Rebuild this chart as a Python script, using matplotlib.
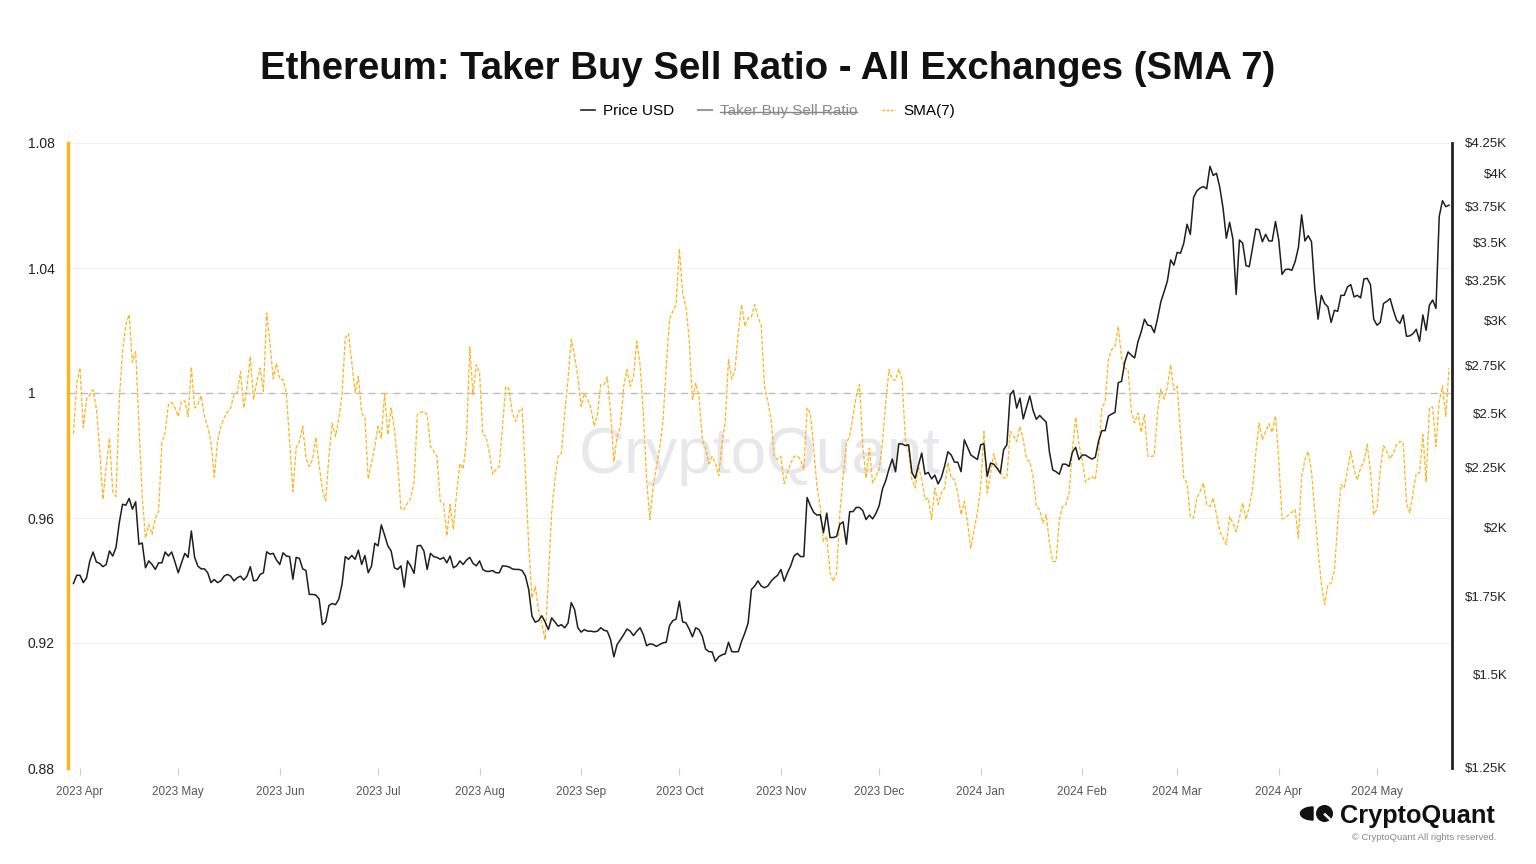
import numpy as np
import pandas as pd
import matplotlib
matplotlib.use('Agg')
import matplotlib.pyplot as plt
import matplotlib.dates as mdates
from matplotlib.lines import Line2D
from matplotlib.patches import Polygon, Circle
from matplotlib.ticker import NullLocator

plt.rcParams['font.family'] = ['Liberation Sans', 'DejaVu Sans']

# daily values, first day 2023-03-30
start_day = '2023-03-30'

sma_apr_jul = [0.987, 1.003, 1.008, 0.989, 0.998, 0.9995, 1.001, 0.995, 0.982, 0.966,
               0.9765, 0.9856, 0.9685, 0.9669, 0.998, 1.0133, 1.0219, 1.0251, 1.0098, 1.0133,
               0.9904, 0.9669, 0.9536, 0.9579, 0.9547, 0.960, 0.9621, 0.984, 0.9872, 0.9963,
               0.997, 0.9952, 0.9925, 0.9973, 0.9975, 0.9925, 1.0083, 0.9952, 0.9963, 0.9991,
               0.9925, 0.9893, 0.9842, 0.9731, 0.9845, 0.9893, 0.992, 0.9939, 0.9952, 0.9995,
               1.000, 1.0069, 0.9952, 1.0021, 1.0117, 0.998, 1.0037, 1.008, 1.0005, 1.0256,
               1.016, 1.0045, 1.0094, 1.0045, 1.0043, 1.000, 0.984, 0.9685, 0.9824, 0.9845,
               0.9893, 0.9792, 0.9765, 0.9787, 0.9858, 0.9771, 0.9691, 0.9655, 0.9797, 0.9904,
               0.9861, 0.9915, 0.9995, 1.0176, 1.019, 1.0096, 1.0002, 1.0053, 0.9936, 0.992,
               0.9725, 0.9776, 0.9829, 0.9893, 0.9856, 0.9998, 0.9867, 0.9952, 0.9883, 0.9776,
               0.9627, 0.9629, 0.9648, 0.9664, 0.9717, 0.9931]
sma_jul_oct = [0.9938, 0.9941, 0.9931, 0.9829, 0.9813, 0.9797, 0.9653, 0.9648, 0.9543, 0.9643,
               0.9563, 0.968, 0.9774, 0.9757, 0.9851, 1.0147, 0.9995, 1.0091, 1.0064, 0.9867,
               0.9861, 0.9808, 0.9739, 0.9755, 0.9765, 0.9893, 1.0021, 1.0013, 0.9936, 0.9909,
               0.9941, 0.9952, 0.9744, 0.9509, 0.9344, 0.9381, 0.9306, 0.9264, 0.921, 0.9402,
               0.9616, 0.9723, 0.9797, 0.9808, 0.9936, 1.0043, 1.0171, 1.0117, 1.0053, 0.9957,
               0.9998, 0.9979, 0.9952, 0.9893, 0.9931, 1.0027, 1.0027, 1.0051, 0.9936, 0.9781,
               0.9861, 0.9893, 1.0021, 1.0075, 1.0021, 1.0053, 1.0165, 1.0091, 0.9936, 0.9723,
               0.9595, 0.9701, 0.9765, 0.9824, 0.9909, 1.0085, 1.0235, 1.0261, 1.0283, 1.0461,
               1.032, 1.0277, 1.0171, 0.9979, 1.0032, 0.9989, 0.9851, 0.9824, 0.9774, 0.9797,
               0.9776, 0.9735, 0.9835, 0.9909, 1.0107, 1.0045, 1.0075, 1.0192, 1.0283, 1.0213,
               1.024, 1.0243, 1.0283, 1.0243, 1.0216, 1.0021, 0.9973]
sma_oct_feb = [0.9915, 0.9797, 0.9787, 0.9797, 0.971, 0.9744, 0.9776, 0.9797, 0.9799, 0.9787,
               0.9755, 0.9952, 0.9936, 0.9824, 0.9701, 0.9637, 0.9525, 0.9541, 0.9424, 0.9397,
               0.9424, 0.9616, 0.9733, 0.984, 0.9861, 0.9925, 0.9989, 1.0027, 0.9829, 0.9728,
               0.9824, 0.9712, 0.9733, 0.9755, 0.984, 0.9968, 1.0075, 1.0043, 1.0041, 1.0077,
               1.0043, 0.9851, 0.9813, 0.9723, 0.9696, 0.9765, 0.9723, 0.9659, 0.9664, 0.9595,
               0.9696, 0.9643, 0.968, 0.9696, 0.9778, 0.9728, 0.9723, 0.968, 0.9611, 0.9653,
               0.9584, 0.9504, 0.9563, 0.9616, 0.9701, 0.9877, 0.968, 0.9744, 0.9806, 0.9765,
               0.9744, 0.9728, 0.9728, 0.9877, 0.9863, 0.9845, 0.9893, 0.9851, 0.9787, 0.9781,
               0.9733, 0.9637, 0.9627, 0.9584, 0.9611, 0.952, 0.9461, 0.9461, 0.9595, 0.9637,
               0.9643, 0.968, 0.9819, 0.9922, 0.9835, 0.9787, 0.9714, 0.9725, 0.9733, 0.9723,
               0.9808, 0.9952, 0.9973, 1.0107, 1.0139, 1.0149, 1.0213]
sma_feb_may = [1.0112, 1.008, 1.0075, 0.9941, 0.9904, 0.9936, 0.9874, 0.9931, 0.9797, 0.9797,
               0.9799, 0.9941, 1.0013, 0.9981, 1.0019, 1.0091, 1.0009, 1.0021, 0.9872, 0.9728,
               0.9712, 0.9605, 0.96, 0.9664, 0.9685, 0.9712, 0.9643, 0.9637, 0.9664, 0.9611,
               0.9557, 0.9536, 0.9515, 0.9605, 0.9584, 0.9557, 0.96, 0.9648, 0.9595, 0.9637,
               0.9691, 0.9808, 0.9904, 0.9851, 0.9877, 0.9902, 0.9874, 0.9927, 0.9787, 0.9597,
               0.96, 0.9611, 0.9618, 0.9627, 0.9536, 0.9733, 0.9787, 0.9813, 0.9749, 0.9621,
               0.9499, 0.9392, 0.9322, 0.9386, 0.9392, 0.9432, 0.9584, 0.9707, 0.9696, 0.9755,
               0.9813, 0.9755, 0.9723, 0.976, 0.9781, 0.9835, 0.9749, 0.9611, 0.9629, 0.9755,
               0.9831, 0.9813, 0.9789, 0.9808, 0.9835, 0.9845, 0.9842, 0.9648, 0.9616, 0.968,
               0.9744, 0.9744, 0.9867, 0.9717, 0.9952, 0.9955, 0.9829, 0.9973, 1.0023, 0.9925,
               1.008]

price_apr_jul = [1794, 1823, 1823, 1797, 1814, 1875, 1908, 1871, 1866, 1854,
                 1862, 1912, 1893, 1925, 2021, 2095, 2091, 2119, 2075, 2105,
                 1937, 1942, 1850, 1875, 1862, 1844, 1868, 1868, 1908, 1893,
                 1908, 1871, 1832, 1868, 1903, 1888, 1988, 1888, 1856, 1846,
                 1846, 1832, 1797, 1808, 1797, 1803, 1820, 1826, 1820, 1803,
                 1814, 1820, 1806, 1820, 1854, 1803, 1806, 1826, 1832, 1909,
                 1900, 1903, 1878, 1862, 1905, 1893, 1891, 1809, 1888, 1884,
                 1846, 1840, 1756, 1756, 1754, 1741, 1655, 1664, 1718, 1725,
                 1721, 1739, 1791, 1891, 1881, 1895, 1881, 1915, 1862, 1895,
                 1832, 1856, 1941, 1931, 2012, 1972, 1931, 1912, 1850, 1844,
                 1857, 1781, 1875, 1856, 1830, 1931]
price_jul_oct = [1933, 1912, 1844, 1903, 1891, 1888, 1881, 1888, 1868, 1893,
                 1850, 1857, 1875, 1862, 1878, 1888, 1866, 1857, 1875, 1844,
                 1837, 1837, 1840, 1832, 1832, 1857, 1856, 1853, 1846, 1844,
                 1844, 1840, 1820, 1773, 1683, 1663, 1668, 1684, 1664, 1639,
                 1677, 1664, 1650, 1655, 1645, 1660, 1728, 1705, 1645, 1631,
                 1639, 1634, 1634, 1632, 1634, 1645, 1637, 1634, 1607, 1554,
                 1592, 1607, 1623, 1641, 1634, 1620, 1634, 1645, 1623, 1588,
                 1594, 1592, 1586, 1592, 1597, 1599, 1652, 1668, 1673, 1733,
                 1664, 1661, 1641, 1616, 1645, 1639, 1618, 1578, 1570, 1569,
                 1540, 1554, 1560, 1563, 1599, 1570, 1569, 1570, 1602, 1628,
                 1661, 1773, 1785, 1803, 1785, 1779, 1785]
price_oct_feb = [1802, 1814, 1823, 1844, 1802, 1832, 1857, 1893, 1903, 1891,
                 1891, 2123, 2089, 2062, 2051, 2053, 1982, 2059, 1963, 1963,
                 1967, 2015, 2024, 1937, 2065, 2065, 2082, 2082, 2069, 2033,
                 2051, 2036, 2057, 2089, 2158, 2194, 2245, 2289, 2233, 2358,
                 2358, 2350, 2354, 2230, 2204, 2262, 2316, 2222, 2230, 2202,
                 2218, 2180, 2208, 2259, 2322, 2307, 2275, 2275, 2233, 2377,
                 2342, 2307, 2297, 2287, 2354, 2358, 2213, 2271, 2266, 2248,
                 2227, 2331, 2354, 2596, 2618, 2529, 2579, 2476, 2534, 2590,
                 2517, 2474, 2493, 2476, 2461, 2320, 2241, 2233, 2222, 2266,
                 2266, 2256, 2320, 2342, 2287, 2307, 2307, 2297, 2289, 2297,
                 2372, 2420, 2420, 2490, 2500, 2508, 2658]
price_feb_may = [2665, 2768, 2823, 2805, 2790, 2879, 2936, 3010, 2975, 2971,
                 2932, 3014, 3114, 3176, 3243, 3380, 3346, 3431, 3425, 3492,
                 3625, 3554, 3820, 3870, 3891, 3903, 3885, 4060, 3989, 4005,
                 3897, 3741, 3527, 3639, 3522, 3159, 3515, 3492, 3343, 3336,
                 3463, 3592, 3585, 3503, 3554, 3508, 3508, 3644, 3515, 3286,
                 3317, 3320, 3312, 3369, 3463, 3692, 3508, 3545, 3503, 3197,
                 3010, 3154, 3104, 3084, 2991, 3063, 3057, 3154, 3154, 3207,
                 3221, 3144, 3154, 3138, 3256, 3261, 3221, 3010, 2975, 2991,
                 3104, 3117, 3134, 3063, 3004, 2985, 3035, 2911, 2913, 2926,
                 2951, 2882, 3035, 2945, 3094, 3125, 3074, 3682, 3796, 3752,
                 3763]

ratio_ticks = [0.88, 0.92, 0.96, 1.0, 1.04, 1.08]
ratio_labels = ['0.88', '0.92', '0.96', '1', '1.04', '1.08']
price_ticks = [1250, 1500, 1750, 2000, 2250, 2500, 2750, 3000, 3250, 3500, 3750, 4000, 4250]
price_labels = ['$1.25K', '$1.5K', '$1.75K', '$2K', '$2.25K', '$2.5K', '$2.75K',
                '$3K', '$3.25K', '$3.5K', '$3.75K', '$4K', '$4.25K']

sma7 = sma_apr_jul + sma_jul_oct + sma_oct_feb + sma_feb_may
price = price_apr_jul + price_jul_oct + price_oct_feb + price_feb_may
dates = pd.date_range(start_day, periods=len(sma7), freq='D')

W, H = 1536, 864
fig = plt.figure(figsize=(W / 100, H / 100), dpi=100)
fig.patch.set_facecolor('white')

ax = fig.add_axes([68 / W, (H - 768) / H, (1452 - 68) / W, (768 - 143) / H])
ax2 = ax.twinx()

orange = '#F9B51D'

# watermark
ax.text(0.5, 0.5, 'CryptoQuant', transform=ax.transAxes, ha='center', va='center',
        fontsize=46, color='#e7e7ec', zorder=0)

ax.plot(dates, sma7, color=orange, lw=0.9, ls=(0, (3, 1.5)), zorder=3)
ax.axhline(1.0, color='#bdbdbd', lw=1, ls=(0, (5, 4)), zorder=2)
ax.set_ylim(0.88, 1.08)
ax.set_yticks(ratio_ticks, labels=ratio_labels)
ax.yaxis.grid(True, color='#f0f0f0', lw=0.8, zorder=1)
ax.tick_params(axis='y', length=0, pad=28.8, labelsize=10, labelcolor='#222222')
for lbl in ax.get_yticklabels():
    lbl.set_horizontalalignment('left')

x0 = pd.Timestamp('2023-04-01') - pd.Timedelta(days=3.66)
x1 = pd.Timestamp('2023-04-01') + pd.Timedelta(days=418.9)
ax.set_xlim(x0, x1)
ax.xaxis.set_major_locator(mdates.MonthLocator())
ax.xaxis.set_major_formatter(mdates.DateFormatter('%Y %b'))
ax.tick_params(axis='x', length=5, width=0.8, color='#cccccc', pad=8,
               labelsize=8.5, labelcolor='#555555')

for s in ['top', 'right', 'bottom']:
    ax.spines[s].set_visible(False)
ax.spines['left'].set_color(orange)
ax.spines['left'].set_linewidth(2.5)

ax2.plot(dates, price, color='#1e1e1e', lw=1.1, zorder=4)
ax2.set_yscale('log')
ax2.set_ylim(1250, 4250)
ax2.yaxis.set_minor_locator(NullLocator())
ax2.set_yticks(price_ticks, labels=price_labels)
ax2.tick_params(axis='y', which='both', length=0, pad=39.8, labelsize=9.5, labelcolor='#222222')
for lbl in ax2.get_yticklabels():
    lbl.set_horizontalalignment('right')
for s in ['top', 'left', 'bottom']:
    ax2.spines[s].set_visible(False)
ax2.spines['right'].set_color('#222222')
ax2.spines['right'].set_linewidth(2)

fig.text(0.5, 1 - 69 / H, 'Ethereum: Taker Buy Sell Ratio - All Exchanges (SMA 7)',
         ha='center', va='center', fontsize=27.6, fontweight='bold', color='#111111')

handles = [Line2D([], [], color='#222222', lw=1.2),
           Line2D([], [], color='#999999', lw=1.5),
           Line2D([], [], color=orange, lw=1, ls=(0, (2, 1)))]
leg = fig.legend(handles, ['Price USD', 'Taker Buy Sell Ratio', 'SMA(7)'],
                 loc='center', bbox_to_anchor=(0.5, 1 - 111 / H), ncol=3, frameon=False,
                 fontsize=11, handlelength=0.9, handletextpad=0.5, columnspacing=1.6)
leg_texts = leg.get_texts()
leg_texts[1].set_color('#888888')

# strike through the hidden series
fig.canvas.draw()
bb = leg_texts[1].get_window_extent()
ymid = (bb.y0 + bb.y1) / 2 - 1
fig.add_artist(Line2D([bb.x0 / W, bb.x1 / W], [ymid / H, ymid / H],
                      transform=fig.transFigure, color='#888888', lw=1))

# logo
lax = fig.add_axes([1298 / W, (H - 824) / H, 38 / W, 20 / H])
lax.set_xlim(1298, 1336)
lax.set_ylim(824, 804)
lax.axis('off')
t = np.linspace(np.pi / 2, 3 * np.pi / 2, 40)
half = np.column_stack([1313 + 12.5 * np.cos(t), 813.5 + 6.5 * np.sin(t)])
lax.add_patch(Polygon(half, closed=True, color='#111111'))
lax.add_patch(Circle((1324.5, 813.5), 7.8, color='#111111'))
lax.plot([1325, 1334], [814.5, 823], color='white', lw=1.8)

fig.text(1340 / W, 1 - 816 / H, 'CryptoQuant', ha='left', va='center',
         fontsize=18.3, fontweight='bold', color='#111111')
fig.text(1496 / W, 1 - 838 / H, '\u00a9 CryptoQuant All rights reserved.', ha='right',
         va='center', fontsize=6.8, color='#888888')

fig.savefig('out.png', dpi=100)
